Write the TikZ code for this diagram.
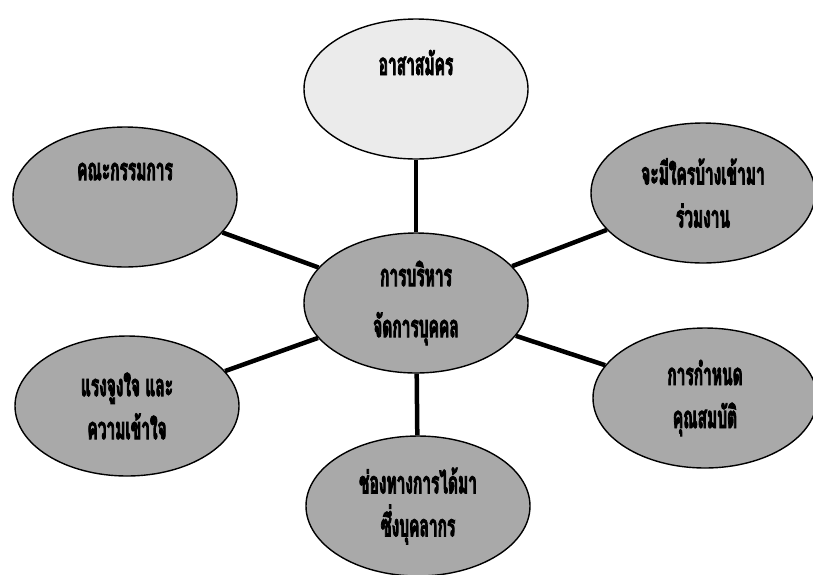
\documentclass[tikz,border=0pt]{standalone}
\usepackage{fontspec}
\newfontfamily\thaifont[Script=Thai,FakeStretch=0.5,FakeBold=2.5]{Loma}
\usetikzlibrary{shapes.geometric}
\definecolor{StaffGrey}{HTML}{A9A9A9}
\definecolor{StaffPale}{HTML}{EBEBEB}
\tikzset{
  link/.style={line width=4.5pt, draw=black},
  bubble/.style={ellipse, draw=black, line width=1.4pt, fill=StaffGrey,
                 minimum width=224pt, minimum height=140pt, inner sep=0pt,
                 align=center, font=\thaifont\bfseries\fontsize{31}{43}\selectfont},
  pale/.style={bubble, fill=StaffPale},
}

\begin{document}
\begin{tikzpicture}[x=1pt,y=-1pt]
  \useasboundingbox (0,0) rectangle (813,574);
  \node[bubble] (hub) at (416,303) {การบริหาร\\[8pt]จัดการบุคคล};
  \node[pale] (vol) at (416,89) {อาสาสมัคร\\[10pt]~};
  \node[bubble] (board) at (125,197) {คณะกรรมการ\\[8pt]~};
  \node[bubble] (who) at (703,193) {จะมีใครบ้างเข้ามา\\ร่วมงาน};
  \node[bubble] (motive) at (127,406) {แรงจูงใจ และ\\ความเข้าใจ};
  \node[bubble] (spec) at (705,398) {การกำหนด\\คุณสมบัติ};
  \node[bubble] (channel) at (418,506) {ช่องทางการได้มา\\ซึ่งบุคลากร};
  % spokes from the hub
  \draw[link] (hub) -- (vol);
  \draw[link] (hub) -- (board);
  \draw[link] (hub) -- (who);
  \draw[link] (hub) -- (motive);
  \draw[link] (hub) -- (spec);
  \draw[link] (hub) -- (channel);
\end{tikzpicture}
\end{document}
